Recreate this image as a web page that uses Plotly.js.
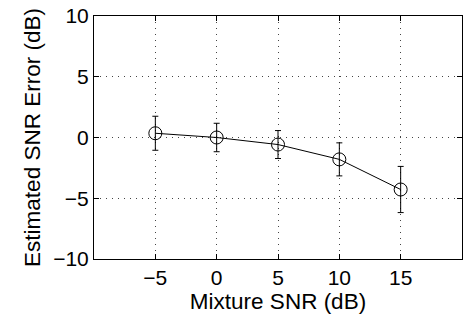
<!DOCTYPE html>
<html><head><meta charset="utf-8">
<script src="https://cdn.plot.ly/plotly-3.0.1.min.js"></script>
<style>html,body{margin:0;padding:0;background:#fff}#c{width:464px;height:324px}</style>
</head><body><div id="c"></div>
<script>
const mixtureSNR = [-5, 0, 5, 10, 15];
const estError = [0.35, 0.0, -0.58, -1.8, -4.28];
const errSpread = [1.4, 1.17, 1.15, 1.36, 1.9];
const xTicks = [-5, 0, 5, 10, 15];
const yTicks = [-10, -5, 0, 5, 10];

const trace = {
  x: mixtureSNR, y: estError, type: 'scatter', mode: 'lines+markers',
  line: {color: '#000', width: 1},
  marker: {symbol: 'circle-open', size: 13, color: '#000', line: {width: 1, color: '#000'}},
  error_y: {type: 'data', array: errSpread, visible: true, color: '#000', thickness: 1, width: 3},
  showlegend: false, hoverinfo: 'skip'
};
const font = {family: 'Liberation Sans, Arial, Helvetica, sans-serif', size: 21, color: '#000'};
const titleFont = {family: 'Liberation Sans, Arial, Helvetica, sans-serif', size: 22.5, color: '#000'};
const axisCommon = {
  showline: true, linecolor: '#000', linewidth: 1, mirror: 'ticks',
  ticks: 'inside', ticklen: 5, tickcolor: '#000', tickwidth: 1,
  showgrid: true, gridcolor: '#444', griddash: '1px,5px', gridwidth: 1,
  zeroline: false, tickfont: font
};
const layout = {
  width: 464, height: 324,
  margin: {l: 94, r: 2, t: 16, b: 65},
  paper_bgcolor: '#fff', plot_bgcolor: '#fff',
  font: font,
  xaxis: Object.assign({}, axisCommon, {
    range: [-10, 20], tickvals: xTicks, ticktext: xTicks.map(v => v < 0 ? '\u2212' + Math.abs(v) : String(v)),
    title: {text: 'Mixture SNR (dB)', font: titleFont, standoff: 3}
  }),
  yaxis: Object.assign({}, axisCommon, {
    range: [-10, 10], tickvals: yTicks, ticktext: yTicks.map(v => v < 0 ? '\u2212' + Math.abs(v) : String(v)),
    title: {text: 'Estimated SNR Error (dB)', font: titleFont, standoff: 6}
  })
};
Plotly.newPlot('c', [trace], layout, {staticPlot: true, displayModeBar: false});
</script></body></html>
